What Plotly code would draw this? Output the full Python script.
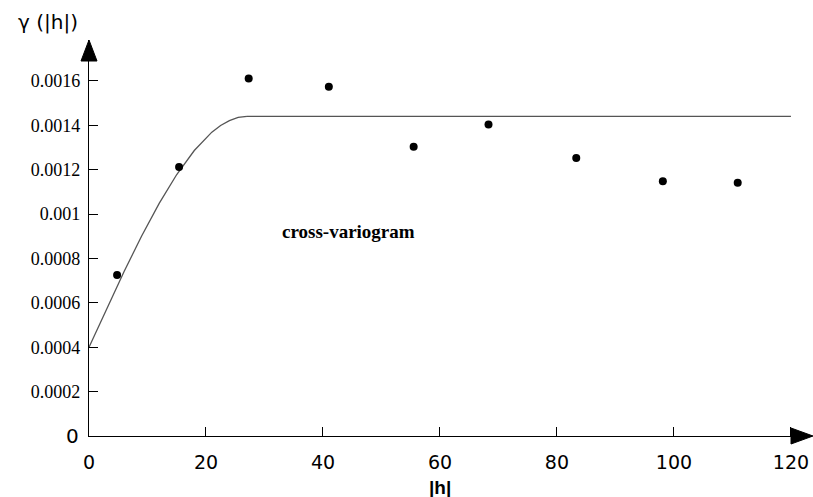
import plotly.graph_objects as go

# Experimental cross-variogram points
lag_h = [4.8, 15.4, 27.3, 41.0, 55.5, 68.3, 83.3, 98.1, 110.9]
gamma = [0.000725, 0.001212, 0.00161, 0.001573, 0.001303, 0.001403, 0.001252, 0.001148, 0.001141]

# Fitted model curve: rising part and sill
model_h = [0, 3, 6, 9, 12, 15, 18, 21, 22.5, 24, 25.5, 27]
model_gamma = [0.0004, 0.000573, 0.000741, 0.000901, 0.001048, 0.001178,
               0.001286, 0.001369, 0.001399, 0.001421, 0.001435, 0.00144]
sill_h = [27, 120]
sill_gamma = [0.00144, 0.00144]

x_ticks = [0, 20, 40, 60, 80, 100, 120]
y_ticks = [0.0002, 0.0004, 0.0006, 0.0008, 0.001, 0.0012, 0.0014, 0.0016]
y_tick_labels = ["0.0002", "0.0004", "0.0006", "0.0008", "0.001", "0.0012", "0.0014", "0.0016"]

SERIF = "Liberation Serif, Times New Roman, serif"
SANS = "Liberation Sans, Arial, sans-serif"
WIDE = "DejaVu Sans, Verdana, sans-serif"

fig = go.Figure()
fig.add_trace(go.Scatter(x=model_h, y=model_gamma, mode="lines",
                         line=dict(color="#555555", width=1.3),
                         hoverinfo="skip", showlegend=False))
fig.add_trace(go.Scatter(x=sill_h, y=sill_gamma, mode="lines",
                         line=dict(color="#555555", width=1.3),
                         hoverinfo="skip", showlegend=False))
fig.add_trace(go.Scatter(x=lag_h, y=gamma, mode="markers",
                         marker=dict(color="black", size=8), showlegend=False))

XMAX = 123.6
YMAX = 0.001784

fig.update_layout(
    width=813, height=497,
    margin=dict(l=89, r=1, t=40, b=61),
    paper_bgcolor="white", plot_bgcolor="white",
    xaxis=dict(range=[0, XMAX], tickvals=x_ticks, ticks="inside", ticklen=9,
               tickcolor="black", showline=True, linecolor="black", linewidth=1.3,
               showgrid=False, zeroline=False, ticklabelstandoff=9,
               tickfont=dict(family=WIDE, size=19, color="black")),
    yaxis=dict(range=[0, YMAX], tickvals=y_ticks, ticktext=y_tick_labels,
               ticks="inside", ticklen=9, tickcolor="black", showline=True,
               linecolor="black", linewidth=1.3,
               showgrid=False, zeroline=False, ticklabelstandoff=4,
               tickfont=dict(family=SERIF, size=18, color="black")),
    shapes=[
        # arrowhead at the end of the x axis
        dict(type="path", xref="paper", yref="paper", xsizemode="pixel", ysizemode="pixel",
             xanchor=1, yanchor=0, path="M 1 0 L -21 8 L -21 -8 Z",
             fillcolor="black", line=dict(color="black", width=1)),
        # arrowhead at the top of the y axis
        dict(type="path", xref="paper", yref="paper", xsizemode="pixel", ysizemode="pixel",
             xanchor=0, yanchor=1, path="M 0 0 L -8 -21 L 8 -21 Z",
             fillcolor="black", line=dict(color="black", width=1)),
    ],
    annotations=[
        dict(x=0, y=0, xref="x", yref="y", text="0", showarrow=False,
             xanchor="right", yanchor="middle", xshift=-8,
             font=dict(family=WIDE, size=20, color="black")),
        dict(x=0, y=1, xref="paper", yref="paper", text="γ (|h|)", showarrow=False,
             xanchor="left", yanchor="middle", xshift=-73, yshift=18,
             font=dict(family=WIDE, size=20, color="black")),
        dict(x=60, y=0, xref="x", yref="paper", text="<b>|h|</b>", showarrow=False,
             xanchor="center", yanchor="middle", yshift=-51,
             font=dict(family=SANS, size=19, color="black")),
        dict(x=44.4, y=0.00092, xref="x", yref="y", text="<b>cross-variogram</b>",
             showarrow=False, font=dict(family=SERIF, size=19, color="black")),
    ],
)

fig.write_html("out.html")
